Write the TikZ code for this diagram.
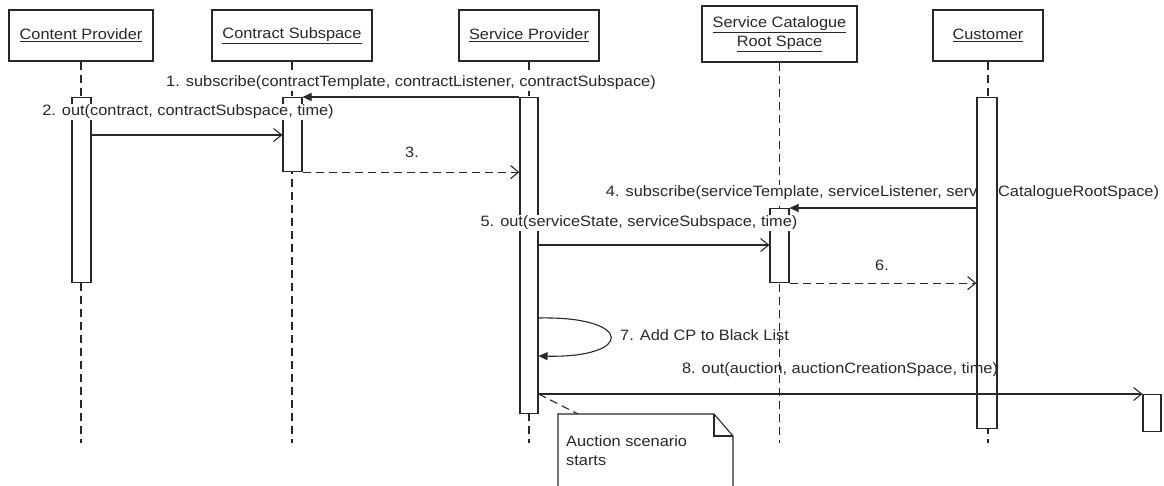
\documentclass[tikz,border=0pt]{standalone}
\usepackage{fontspec}
\setmainfont{Liberation Sans}[FakeStretch=1.09]
\usetikzlibrary{arrows.meta}
\definecolor{ink}{RGB}{40,40,40}

\begin{document}
\begin{tikzpicture}[x=1pt,y=-1pt,
  font=\fontsize{15}{19}\selectfont,
  headbox/.style={draw=ink, line width=1.4pt, fill=white, inner sep=0pt, align=center, text=ink},
  life/.style={draw=ink, line width=1.1pt, dash pattern=on 8pt off 5pt},
  actbox/.style={draw=ink, line width=1.1pt, fill=white, inner sep=0pt, minimum width=19pt, anchor=north},
  callmsg/.style={draw=ink, line width=1.1pt, -{Triangle[length=9pt,width=8pt]}},
  sendmsg/.style={draw=ink, line width=1.1pt, -{Straight Barb[length=8pt,width=13pt,line width=1.1pt]}},
  replymsg/.style={sendmsg, dash pattern=on 8pt off 5pt},
  msglabel/.style={text=ink, inner sep=1pt},
  filledlabel/.style={msglabel, fill=white},
]
\useasboundingbox (0,0) rectangle (1164,486);

% participants
\node[headbox, minimum width=144pt, minimum height=51pt] (cp)   at (81,35.5)    {\underline{Content Provider}};
\node[headbox, minimum width=160pt, minimum height=51pt] (cs)   at (292,35.5)   {\underline{Contract Subspace}};
\node[headbox, minimum width=140pt, minimum height=51pt] (sp)   at (529,35.5)   {\underline{Service Provider}};
\node[headbox, minimum width=155pt, minimum height=56pt] (scr)  at (779.5,34)   {\underline{Service Catalogue}\\\underline{Root Space}};
\node[headbox, minimum width=110pt, minimum height=51pt] (cu)   at (988,35.5)   {\underline{Customer}};

% lifeline ends
\coordinate (cpend)  at (81,443);
\coordinate (csend)  at (292,443);
\coordinate (spend)  at (529,443);
\coordinate (scrend) at (779.5,443);
\coordinate (cuend)  at (988,443);

% lifelines
\draw[life] (cp.south)  -- (cpend);
\draw[life] (cs.south)  -- (csend);
\draw[life] (sp.south)  -- (spend);
\draw[life] (scr.south) -- (scrend);
\draw[life] (cu.south)  -- (cuend);

% label of message 4 lies beneath the customer's activation
\node[filledlabel] (l4) at (882.5,193) {4. subscribe(serviceTemplate, serviceListener, serviceCatalogueRootSpace)};

% activations
\node[actbox, minimum height=185pt] (cpa)  at (81.5,97)  {};
\node[actbox, minimum height=74pt]  (csa)  at (292.5,97) {};
\node[actbox, minimum width=18pt, minimum height=316pt] (spa) at (529,97) {};
\node[actbox, minimum height=74pt]  (scra) at (779.5,208) {};
\node[actbox, minimum width=20pt, minimum height=331pt] (cua) at (987,97) {};
\node[actbox, minimum width=18pt, minimum height=37pt]  (rbox) at (1152,394) {};

% message labels
\node[filledlabel] (l1) at (411,83)  {1. subscribe(contractTemplate, contractListener, contractSubspace)};
\node[filledlabel] (l2) at (188,112) {2. out(contract, contractSubspace, time)};
\node[filledlabel] (l3) at (412,152) {3.};
\node[filledlabel] (l5) at (639,223) {5. out(serviceState, serviceSubspace, time)};
\node[filledlabel] (l6) at (882,265) {6.};
\node[msglabel, anchor=west] (l7) at (619,335) {7. Add CP to Black List};
\node[msglabel] (l8) at (840,370) {8. out(auction, auctionCreationSpace, time)};

% messages
\draw[callmsg]  (spa.north west) -- (csa.north east);
\draw[sendmsg]  (cpa.east |- 0,135) -- (csa.west |- 0,135);
\draw[replymsg] (csa.south east) -- (spa.west |- csa.south);
\draw[callmsg]  (cua.west |- scra.north) -- (scra.north east);
\draw[sendmsg]  (spa.east |- 0,245) -- (scra.west |- 0,245);
\draw[replymsg] (scra.south east) -- (cua.west |- scra.south);
\draw[callmsg]  (spa.east |- 0,318) .. controls (634,316) and (634,358) .. (spa.east |- 0,356);
\draw[sendmsg]  (spa.east |- rbox.north) -- (rbox.north west);

% note
\coordinate (notetop) at (578,414);
\draw[draw=ink, line width=1.1pt, dash pattern=on 8pt off 5pt] (spa.east |- rbox.north) -- (notetop);
\draw[draw=ink, line width=1.1pt, fill=white, line join=miter]
  (558,492) -- (558,414) -- (714,414) -- (733,436) -- (733,492);
\draw[draw=ink, line width=1.1pt] (714,414) -- (714,436) -- (733,436);
\node[msglabel, anchor=west, align=left] (notetext) at (565,450.5) {Auction scenario\\starts};
\end{tikzpicture}
\end{document}
